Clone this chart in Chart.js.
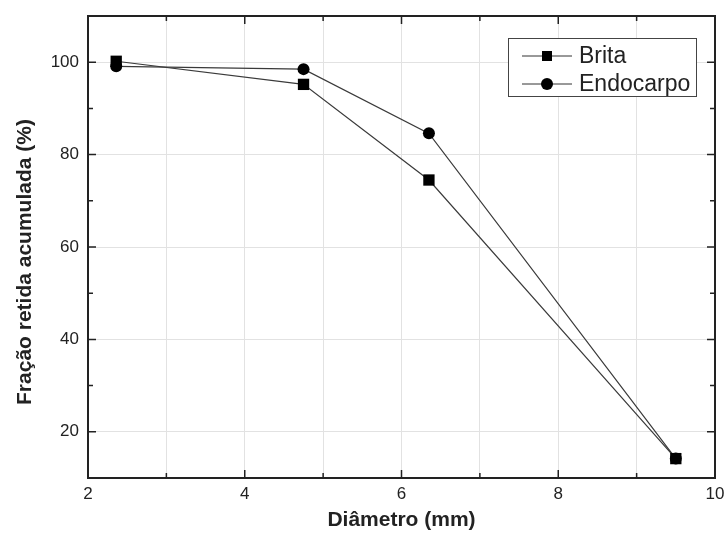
<!DOCTYPE html>
<html>
<head>
<meta charset="utf-8">
<script src="https://cdn.jsdelivr.net/npm/chart.js@4.4.1/dist/chart.umd.min.js"></script>
<style>
  html, body { margin: 0; padding: 0; background: #fff; }
  #wrap { width: 726px; height: 537px; }
</style>
</head>
<body>
<div id="wrap"><canvas id="chart"></canvas></div>
<script>
// sieve opening (mm) and cumulative retained fraction (%)
var diameters = [2.36, 4.75, 6.35, 9.5];
var brita = [100.2, 95.2, 74.5, 14.2];
var endocarpo = [99.1, 98.5, 84.6, 14.2];
var seriesNames = ["Brita", "Endocarpo"];
var xTicks = [2, 3, 4, 5, 6, 7, 8, 9, 10];
var yTicks = [20, 40, 60, 80, 100];
var yMinorTicks = [10, 30, 50, 70, 90, 110];
var yTitle = 'Fração retida acumulada (%)';

var ink = "#222";
var font = "'Liberation Sans', Arial, sans-serif";

function points(ys) {
    return diameters.map(function (d, i) { return { x: d, y: ys[i] }; });
}

// frame, inward ticks, y title and legend in the style of the original plot
var framePlugin = {
    id: 'frame',
    afterDraw: function (chart) {
        var ctx = chart.ctx;
        var a = chart.chartArea;
        var xs = chart.scales.x, ys = chart.scales.y;
        ctx.save();
        ctx.strokeStyle = ink;
        ctx.lineWidth = 1.5;
        xTicks.forEach(function (v) {
            var px = xs.getPixelForValue(v);
            var len = (v % 2 === 0) ? 8 : 5;
            ctx.beginPath();
            ctx.moveTo(px, a.bottom); ctx.lineTo(px, a.bottom - len);
            ctx.moveTo(px, a.top); ctx.lineTo(px, a.top + len);
            ctx.stroke();
        });
        yTicks.concat(yMinorTicks).forEach(function (v) {
            var py = ys.getPixelForValue(v);
            var len = yTicks.indexOf(v) >= 0 ? 8 : 5;
            ctx.beginPath();
            ctx.moveTo(a.left, py); ctx.lineTo(a.left + len, py);
            ctx.moveTo(a.right, py); ctx.lineTo(a.right - len, py);
            ctx.stroke();
        });
        ctx.lineWidth = 2;
        ctx.strokeRect(a.left, a.top, a.right - a.left, a.bottom - a.top);

        // y axis title, sits a little below the middle like the original
        ctx.save();
        ctx.translate(25, (a.top + a.bottom) / 2 + 15);
        ctx.rotate(-Math.PI / 2);
        ctx.font = "bold 21px " + font;
        ctx.fillStyle = ink;
        ctx.textAlign = "center";
        ctx.textBaseline = "middle";
        ctx.fillText(yTitle, 0, 0);
        ctx.restore();

        // legend
        var bx = a.right - 207, by = a.top + 22, bw = 188, bh = 58;
        ctx.fillStyle = "#fff";
        ctx.fillRect(bx, by, bw, bh);
        ctx.lineWidth = 1;
        ctx.strokeStyle = "#444";
        ctx.strokeRect(bx + 0.5, by + 0.5, bw, bh);
        ctx.font = "23px " + font;
        ctx.textBaseline = "middle";
        chart.data.datasets.forEach(function (ds, i) {
            var ry = by + 18 + i * 28;
            ctx.strokeStyle = "#333";
            ctx.beginPath();
            ctx.moveTo(bx + 14, ry); ctx.lineTo(bx + 64, ry);
            ctx.stroke();
            ctx.fillStyle = "#000";
            if (ds.pointStyle === 'rect') {
                ctx.fillRect(bx + 34, ry - 5, 10, 10);
            } else {
                ctx.beginPath();
                ctx.arc(bx + 39, ry, 6, 0, Math.PI * 2);
                ctx.fill();
            }
            ctx.fillStyle = ink;
            ctx.fillText(ds.label, bx + 71, ry + 1);
        });
        ctx.restore();
    }
};

new Chart(document.getElementById('chart'), {
    type: 'line',
    data: {
        datasets: [{
            label: seriesNames[0],
            data: points(brita),
            borderColor: "#3a3a3a",
            borderWidth: 1.2,
            pointStyle: 'rect',
            pointRadius: 8,
            pointBorderWidth: 0,
            pointBackgroundColor: "#000"
        }, {
            label: seriesNames[1],
            data: points(endocarpo),
            borderColor: "#3a3a3a",
            borderWidth: 1.2,
            pointStyle: 'circle',
            pointRadius: 6,
            pointBorderWidth: 0,
            pointBackgroundColor: "#000"
        }]
    },
    options: {
        responsive: true,
        maintainAspectRatio: false,
        animation: false,
        layout: { padding: { top: 16, right: 11, left: 0, bottom: 0 } },
        plugins: {
            legend: { display: false },
            tooltip: { enabled: false }
        },
        scales: {
            x: {
                type: 'linear',
                min: 2,
                max: 10,
                afterBuildTicks: function (scale) {
                    scale.ticks = xTicks.map(function (v) { return { value: v }; });
                },
                afterFit: function (scale) {
                    scale.height = 59;
                    scale.paddingLeft = 0;
                    scale.paddingRight = 0;
                },
                grid: { color: "#e2e2e2", drawTicks: false },
                border: { display: false },
                ticks: {
                    padding: 6,
                    maxRotation: 0,
                    autoSkip: false,
                    color: ink,
                    font: { family: font, size: 17 },
                    callback: function (v) { return v % 2 === 0 ? v : ''; }
                },
                title: {
                    display: true,
                    text: 'Diâmetro (mm)',
                    color: ink,
                    padding: { top: 2 },
                    font: { family: font, size: 21, weight: 'bold' }
                }
            },
            y: {
                min: 10,
                max: 110,
                afterBuildTicks: function (scale) {
                    scale.ticks = yTicks.map(function (v) { return { value: v }; });
                },
                afterFit: function (scale) {
                    scale.width = 88;
                    scale.paddingTop = 0;
                    scale.paddingBottom = 0;
                },
                grid: { color: "#e2e2e2", drawTicks: false },
                border: { display: false },
                ticks: {
                    padding: 9,
                    color: ink,
                    font: { family: font, size: 17 }
                }
            }
        }
    },
    plugins: [framePlugin]
});
</script>
</body>
</html>
